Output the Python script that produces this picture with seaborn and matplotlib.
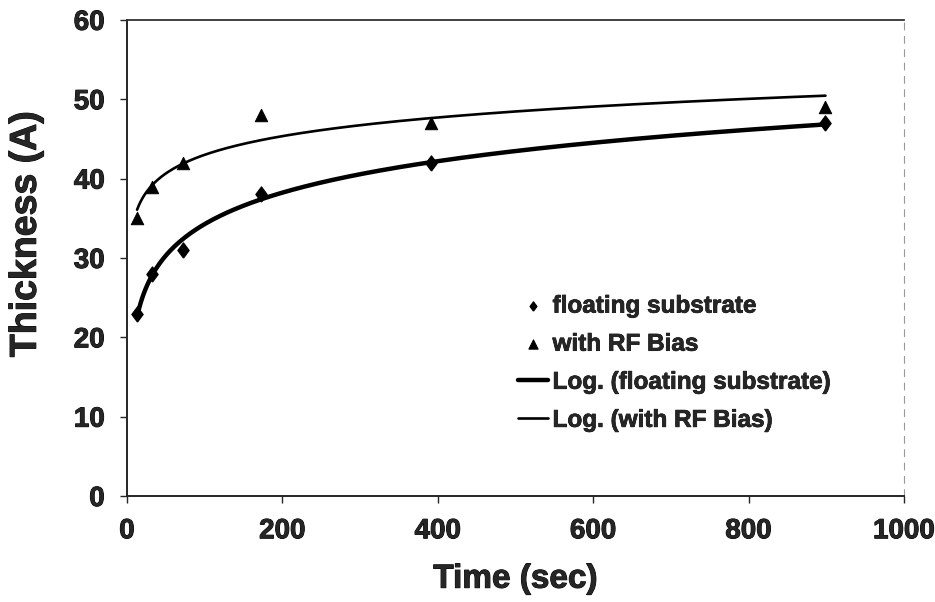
import seaborn as sns
import matplotlib.pyplot as plt
import matplotlib.patheffects as pe
import pandas as pd
import numpy as np

# Data
time_sec = [13, 32, 72, 172, 391, 899]
floating = [23, 28, 31, 38, 42, 47]
rf_bias = [35, 39, 42, 48, 47, 49]

# log trendlines, y = a*ln(x) + b, like Excel
a_fl, b_fl = np.polyfit(np.log(time_sec), floating, 1)
a_rf, b_rf = np.polyfit(np.log(time_sec), rf_bias, 1)
t_fit = np.linspace(min(time_sec), max(time_sec), 400)
fit = pd.DataFrame({'t': t_fit,
                    'fl': a_fl * np.log(t_fit) + b_fl,
                    'rf': a_rf * np.log(t_fit) + b_rf})
pts = pd.DataFrame({'t': time_sec, 'fl': floating, 'rf': rf_bias})

sns.set_style('ticks')
plt.rcParams['font.family'] = ['Liberation Sans', 'DejaVu Sans']
plt.rcParams['font.weight'] = 'bold'

heavy = [pe.withStroke(linewidth=0.7, foreground='black')]
diamond = [(0, -1.35), (1, 0), (0, 1.35), (-1, 0), (0, -1.35)]

fig = plt.figure(figsize=(9.35, 6.02), dpi=100)
ax = fig.add_axes([0.1358, 0.176, 0.831, 0.791])

sns.scatterplot(data=pts, x='t', y='fl', marker=diamond, s=120, color='black',
                edgecolor='black', ax=ax, label='floating substrate', zorder=3)
sns.scatterplot(data=pts, x='t', y='rf', marker='^', s=80, color='black',
                edgecolor='black', ax=ax, label='with RF Bias', zorder=3)
sns.lineplot(data=fit, x='t', y='fl', color='black', linewidth=3.2, ax=ax,
             label='Log. (floating substrate)')
sns.lineplot(data=fit, x='t', y='rf', color='black', linewidth=1.9, ax=ax,
             label='Log. (with RF Bias)')

ax.set_xlim(0, 1000)
ax.set_ylim(0, 60)
ax.set_xticks(range(0, 1001, 200))
ax.set_yticks(range(0, 61, 10))
ax.tick_params(labelsize=20, length=5, width=1, direction='out')
ax.tick_params(axis='y', pad=11)
ax.tick_params(axis='x', pad=11)
for lab in ax.get_xticklabels() + ax.get_yticklabels():
    lab.set_fontweight('bold')
    lab.set_path_effects(heavy)

ax.set_xlabel('Time (sec)', fontsize=24, fontweight='bold', labelpad=14,
              path_effects=heavy)
ax.set_ylabel('Thickness (A)', fontsize=27, fontweight='bold',
              path_effects=heavy)
ax.yaxis.set_label_coords(-0.107, 0.55)

ax.spines['left'].set_linewidth(1.4)
ax.spines['bottom'].set_linewidth(1.4)
ax.spines['top'].set_color('#333333')
ax.spines['top'].set_linewidth(1.3)
ax.spines['right'].set_color('#999999')
ax.spines['right'].set_linewidth(0.8)
ax.spines['right'].set_linestyle((0, (6, 6)))

leg = ax.legend(loc='upper left', bbox_to_anchor=(0.503, 0.423), frameon=False,
                fontsize=17.5, handlelength=1.25, handletextpad=0.18,
                labelspacing=0.62, borderpad=0, borderaxespad=0)
leg.legend_handles[0].set_sizes([45])
leg.legend_handles[1].set_sizes([45])
for t in leg.get_texts():
    t.set_fontweight('bold')
    t.set_path_effects([pe.withStroke(linewidth=0.5, foreground='black')])

fig.savefig('out.png', dpi=100)
